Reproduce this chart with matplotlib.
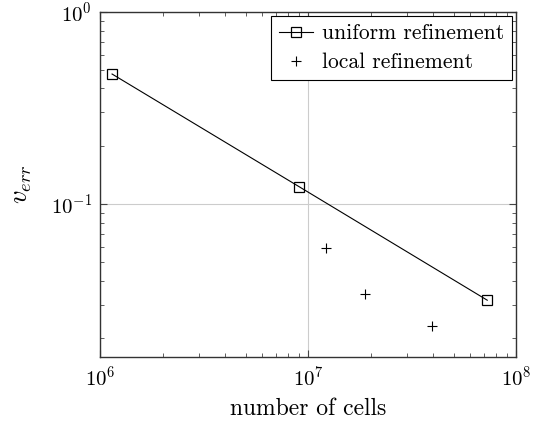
import matplotlib
matplotlib.use("Agg")
import matplotlib.pyplot as plt
from matplotlib.ticker import LogLocator, NullFormatter

# ── data ─────────────────────────────────────────────────────────────────────
uniform_cells = [1.14e6, 9.06e6, 7.26e7]
uniform_err = [0.475, 0.123, 0.0316]

local_cells = [1.22e7, 1.88e7, 3.94e7]
local_err = [0.059, 0.034, 0.0232]

plt.rcParams['font.family'] = 'serif'
plt.rcParams['font.serif'] = ['cmr10', 'DejaVu Serif']
plt.rcParams['mathtext.fontset'] = 'cm'
plt.rcParams['axes.formatter.use_mathtext'] = True

fig = plt.figure(figsize=(5.36, 4.25), dpi=100)
ax = fig.add_axes([0.187, 0.16, 0.776, 0.812])

ax.plot(uniform_cells, uniform_err, '-', color='black', linewidth=0.8,
        marker='s', markersize=7, markerfacecolor='none', markeredgewidth=0.9,
        label='uniform refinement')
ax.plot(local_cells, local_err, linestyle='none', color='black',
        marker='+', markersize=7, markeredgewidth=0.8, label='local refinement')

ax.set_xscale('log')
ax.set_yscale('log')
ax.set_xlim(1e6, 1e8)
ax.set_ylim(0.016, 1.0)

ax.xaxis.set_major_locator(LogLocator(base=10, numticks=10))
ax.yaxis.set_major_locator(LogLocator(base=10, numticks=10))
ax.xaxis.set_minor_locator(LogLocator(base=10, subs=range(2, 10), numticks=20))
ax.yaxis.set_minor_locator(LogLocator(base=10, subs=range(2, 10), numticks=20))
ax.xaxis.set_minor_formatter(NullFormatter())
ax.yaxis.set_minor_formatter(NullFormatter())

ax.tick_params(which='both', direction='in', top=True, right=True,
               labelsize=15, color='#444444')
ax.tick_params(which='major', length=5, width=0.8, pad=6)
ax.tick_params(which='minor', length=3, width=0.6)

ax.grid(True, which='major', color='#cccccc', linewidth=0.8)
ax.set_axisbelow(True)
for s in ax.spines.values():
    s.set_linewidth(1.0)
    s.set_color('#333333')

ax.set_xlabel('number of cells', fontsize=17, labelpad=6)
ax.set_ylabel('$v_{err}$', fontsize=19, labelpad=12)

leg = ax.legend(loc='upper right', fontsize=15.5, fancybox=False,
                edgecolor='black', framealpha=1, borderaxespad=0.2,
                handlelength=1.6, handletextpad=0.4, borderpad=0.35,
                labelspacing=0.45)
leg.get_frame().set_linewidth(0.8)

fig.savefig('out.png', dpi=100)
